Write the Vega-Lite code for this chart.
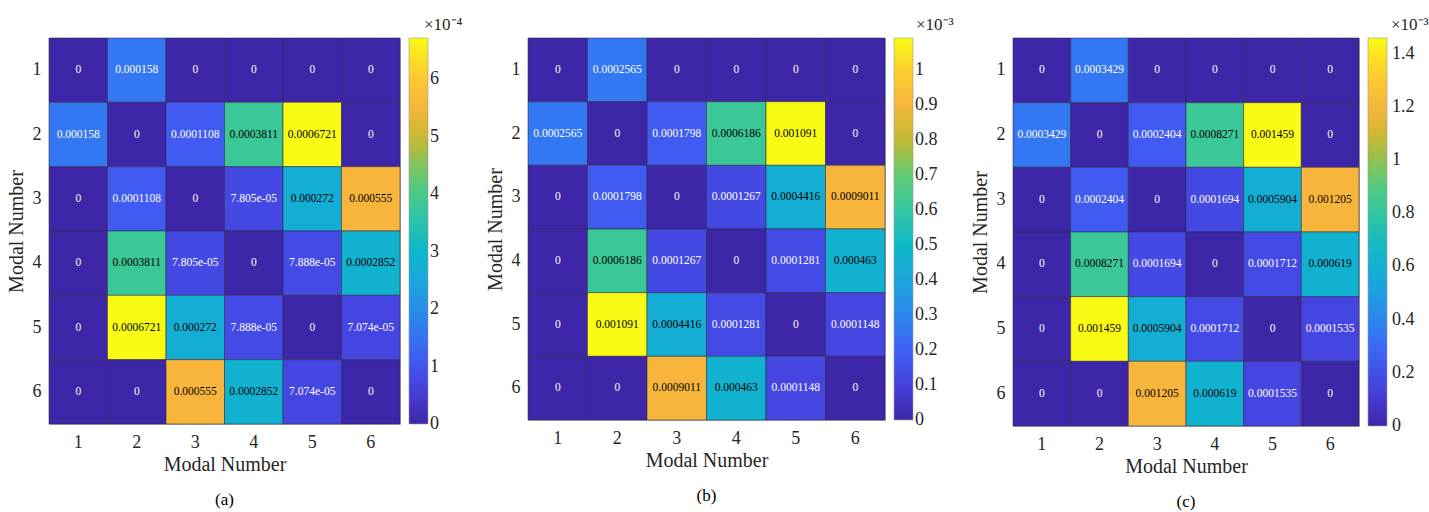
{
  "$schema": "https://vega.github.io/schema/vega-lite/v6.json",
  "padding": {"left": 5, "top": 16, "right": 2, "bottom": 2},
  "background": "white",
  "bounds": "flush",
  "spacing": 128,
  "config": {
    "font": "Liberation Serif",
    "view": {"stroke": "#b0b0b0", "strokeWidth": 1},
    "axis": {"ticks": false, "domain": false, "grid": false, "labelFontSize": 18, "titleFontSize": 20, "titleFontWeight": "normal", "labelColor": "#262626", "titleColor": "#262626", "labelFont": "Liberation Serif", "titleFont": "Liberation Serif"},
    "axisX": {"labelAngle": 0, "labelPadding": 9, "titlePadding": 3},
    "axisY": {"labelPadding": 8, "titlePadding": 6},
    "legend": {"orient": "none", "direction": "vertical", "gradientThickness": 19, "titleFontSize": 17, "titleFontWeight": "normal", "titleColor": "#262626", "titleFont": "Liberation Serif", "titlePadding": 4, "titleAnchor": "middle", "titleAlign": "left", "labelFontSize": 18, "labelColor": "#262626", "labelFont": "Liberation Serif", "labelOverlap": false, "labelBaseline": "middle", "labelOffset": 6, "gradientStrokeColor": "#9a9a9a", "gradientStrokeWidth": 0.6},
    "title": {"orient": "bottom", "fontSize": 17, "fontWeight": "normal", "color": "#000000", "font": "Liberation Serif", "offset": 18}
  },
  "datasets": {
    "a": [
      {"r":1,"c":1,"v":0,"t":"0"},{"r":1,"c":2,"v":0.000158,"t":"0.000158"},{"r":1,"c":3,"v":0,"t":"0"},{"r":1,"c":4,"v":0,"t":"0"},{"r":1,"c":5,"v":0,"t":"0"},{"r":1,"c":6,"v":0,"t":"0"},
      {"r":2,"c":1,"v":0.000158,"t":"0.000158"},{"r":2,"c":2,"v":0,"t":"0"},{"r":2,"c":3,"v":0.0001108,"t":"0.0001108"},{"r":2,"c":4,"v":0.0003811,"t":"0.0003811"},{"r":2,"c":5,"v":0.0006721,"t":"0.0006721"},{"r":2,"c":6,"v":0,"t":"0"},
      {"r":3,"c":1,"v":0,"t":"0"},{"r":3,"c":2,"v":0.0001108,"t":"0.0001108"},{"r":3,"c":3,"v":0,"t":"0"},{"r":3,"c":4,"v":0.00007805,"t":"7.805e-05"},{"r":3,"c":5,"v":0.000272,"t":"0.000272"},{"r":3,"c":6,"v":0.000555,"t":"0.000555"},
      {"r":4,"c":1,"v":0,"t":"0"},{"r":4,"c":2,"v":0.0003811,"t":"0.0003811"},{"r":4,"c":3,"v":0.00007805,"t":"7.805e-05"},{"r":4,"c":4,"v":0,"t":"0"},{"r":4,"c":5,"v":0.00007888,"t":"7.888e-05"},{"r":4,"c":6,"v":0.0002852,"t":"0.0002852"},
      {"r":5,"c":1,"v":0,"t":"0"},{"r":5,"c":2,"v":0.0006721,"t":"0.0006721"},{"r":5,"c":3,"v":0.000272,"t":"0.000272"},{"r":5,"c":4,"v":0.00007888,"t":"7.888e-05"},{"r":5,"c":5,"v":0,"t":"0"},{"r":5,"c":6,"v":0.00007074,"t":"7.074e-05"},
      {"r":6,"c":1,"v":0,"t":"0"},{"r":6,"c":2,"v":0,"t":"0"},{"r":6,"c":3,"v":0.000555,"t":"0.000555"},{"r":6,"c":4,"v":0.0002852,"t":"0.0002852"},{"r":6,"c":5,"v":0.00007074,"t":"7.074e-05"},{"r":6,"c":6,"v":0,"t":"0"}
    ],
    "b": [
      {"r":1,"c":1,"v":0,"t":"0"},{"r":1,"c":2,"v":0.0002565,"t":"0.0002565"},{"r":1,"c":3,"v":0,"t":"0"},{"r":1,"c":4,"v":0,"t":"0"},{"r":1,"c":5,"v":0,"t":"0"},{"r":1,"c":6,"v":0,"t":"0"},
      {"r":2,"c":1,"v":0.0002565,"t":"0.0002565"},{"r":2,"c":2,"v":0,"t":"0"},{"r":2,"c":3,"v":0.0001798,"t":"0.0001798"},{"r":2,"c":4,"v":0.0006186,"t":"0.0006186"},{"r":2,"c":5,"v":0.001091,"t":"0.001091"},{"r":2,"c":6,"v":0,"t":"0"},
      {"r":3,"c":1,"v":0,"t":"0"},{"r":3,"c":2,"v":0.0001798,"t":"0.0001798"},{"r":3,"c":3,"v":0,"t":"0"},{"r":3,"c":4,"v":0.0001267,"t":"0.0001267"},{"r":3,"c":5,"v":0.0004416,"t":"0.0004416"},{"r":3,"c":6,"v":0.0009011,"t":"0.0009011"},
      {"r":4,"c":1,"v":0,"t":"0"},{"r":4,"c":2,"v":0.0006186,"t":"0.0006186"},{"r":4,"c":3,"v":0.0001267,"t":"0.0001267"},{"r":4,"c":4,"v":0,"t":"0"},{"r":4,"c":5,"v":0.0001281,"t":"0.0001281"},{"r":4,"c":6,"v":0.000463,"t":"0.000463"},
      {"r":5,"c":1,"v":0,"t":"0"},{"r":5,"c":2,"v":0.001091,"t":"0.001091"},{"r":5,"c":3,"v":0.0004416,"t":"0.0004416"},{"r":5,"c":4,"v":0.0001281,"t":"0.0001281"},{"r":5,"c":5,"v":0,"t":"0"},{"r":5,"c":6,"v":0.0001148,"t":"0.0001148"},
      {"r":6,"c":1,"v":0,"t":"0"},{"r":6,"c":2,"v":0,"t":"0"},{"r":6,"c":3,"v":0.0009011,"t":"0.0009011"},{"r":6,"c":4,"v":0.000463,"t":"0.000463"},{"r":6,"c":5,"v":0.0001148,"t":"0.0001148"},{"r":6,"c":6,"v":0,"t":"0"}
    ],
    "c": [
      {"r":1,"c":1,"v":0,"t":"0"},{"r":1,"c":2,"v":0.0003429,"t":"0.0003429"},{"r":1,"c":3,"v":0,"t":"0"},{"r":1,"c":4,"v":0,"t":"0"},{"r":1,"c":5,"v":0,"t":"0"},{"r":1,"c":6,"v":0,"t":"0"},
      {"r":2,"c":1,"v":0.0003429,"t":"0.0003429"},{"r":2,"c":2,"v":0,"t":"0"},{"r":2,"c":3,"v":0.0002404,"t":"0.0002404"},{"r":2,"c":4,"v":0.0008271,"t":"0.0008271"},{"r":2,"c":5,"v":0.001459,"t":"0.001459"},{"r":2,"c":6,"v":0,"t":"0"},
      {"r":3,"c":1,"v":0,"t":"0"},{"r":3,"c":2,"v":0.0002404,"t":"0.0002404"},{"r":3,"c":3,"v":0,"t":"0"},{"r":3,"c":4,"v":0.0001694,"t":"0.0001694"},{"r":3,"c":5,"v":0.0005904,"t":"0.0005904"},{"r":3,"c":6,"v":0.001205,"t":"0.001205"},
      {"r":4,"c":1,"v":0,"t":"0"},{"r":4,"c":2,"v":0.0008271,"t":"0.0008271"},{"r":4,"c":3,"v":0.0001694,"t":"0.0001694"},{"r":4,"c":4,"v":0,"t":"0"},{"r":4,"c":5,"v":0.0001712,"t":"0.0001712"},{"r":4,"c":6,"v":0.000619,"t":"0.000619"},
      {"r":5,"c":1,"v":0,"t":"0"},{"r":5,"c":2,"v":0.001459,"t":"0.001459"},{"r":5,"c":3,"v":0.0005904,"t":"0.0005904"},{"r":5,"c":4,"v":0.0001712,"t":"0.0001712"},{"r":5,"c":5,"v":0,"t":"0"},{"r":5,"c":6,"v":0.0001535,"t":"0.0001535"},
      {"r":6,"c":1,"v":0,"t":"0"},{"r":6,"c":2,"v":0,"t":"0"},{"r":6,"c":3,"v":0.001205,"t":"0.001205"},{"r":6,"c":4,"v":0.000619,"t":"0.000619"},{"r":6,"c":5,"v":0.0001535,"t":"0.0001535"},{"r":6,"c":6,"v":0,"t":"0"}
    ]
  },
  "hconcat": [
    {
      "data": {"name": "a"},
      "width": 351, "height": 386,
      "title": {"text": "(a)"},
      "encoding": {
        "x": {"field": "c", "type": "ordinal", "scale": {"paddingInner": 0, "paddingOuter": 0}, "axis": {"title": "Modal Number"}},
        "y": {"field": "r", "type": "ordinal", "scale": {"paddingInner": 0, "paddingOuter": 0}, "axis": {"title": "Modal Number"}}
      },
      "layer": [
        {"mark": {"type": "rect", "stroke": "#2b2b40", "strokeWidth": 0.7, "strokeOpacity": 0.8},
         "encoding": {"color": {"field": "v", "type": "quantitative",
           "scale": {"type": "linear", "interpolate": "rgb",
             "domain": [0, 0.00006049, 0.00012098, 0.00018147, 0.00024196, 0.00030245, 0.00036966, 0.00043014, 0.00049063, 0.00052424, 0.00055784, 0.00061833, 0.0006721],
             "range": ["#3e26a8", "#4640dd", "#4060f6", "#2c85ef", "#1ca4df", "#0bb8ca", "#33c69f", "#5fcb73", "#c1b931", "#e2b434", "#f9b63c", "#fcd02c", "#f9fb15"]},
           "legend": {"title": "×10⁻⁴", "legendX": 360, "legendY": -21, "gradientLength": 386, "values": [0.000000001, 0.0001, 0.0002, 0.0003, 0.0004, 0.0005, 0.0006], "labelExpr": "format(datum.value*10000, '.1~f')"}}}},
        {"mark": {"type": "text", "fontSize": 11.5, "font": "Liberation Serif"},
         "encoding": {"text": {"field": "t"}, "color": {"condition": {"test": "datum.v > 0.0002", "value": "#000000"}, "value": "#ffffff"}}}
      ]
    },
    {
      "data": {"name": "b"},
      "width": 357, "height": 382,
      "title": {"text": "(b)"},
      "encoding": {
        "x": {"field": "c", "type": "ordinal", "scale": {"paddingInner": 0, "paddingOuter": 0}, "axis": {"title": "Modal Number"}},
        "y": {"field": "r", "type": "ordinal", "scale": {"paddingInner": 0, "paddingOuter": 0}, "axis": {"title": "Modal Number"}}
      },
      "layer": [
        {"mark": {"type": "rect", "stroke": "#2b2b40", "strokeWidth": 0.7, "strokeOpacity": 0.8},
         "encoding": {"color": {"field": "v", "type": "quantitative",
           "scale": {"type": "linear", "interpolate": "rgb",
             "domain": [0, 0.00009819, 0.00019638, 0.00029457, 0.00039276, 0.00049095, 0.00060005, 0.00069824, 0.00079643, 0.00085098, 0.00090553, 0.00100372, 0.001091],
             "range": ["#3e26a8", "#4640dd", "#4060f6", "#2c85ef", "#1ca4df", "#0bb8ca", "#33c69f", "#5fcb73", "#c1b931", "#e2b434", "#f9b63c", "#fcd02c", "#f9fb15"]},
           "legend": {"title": "×10⁻³", "legendX": 366, "legendY": -21, "gradientLength": 382, "values": [0.000000001, 0.0001, 0.0002, 0.0003, 0.0004, 0.0005, 0.0006, 0.0007, 0.0008, 0.0009, 0.001], "labelExpr": "format(datum.value*1000, '.1~f')"}}}},
        {"mark": {"type": "text", "fontSize": 11.5, "font": "Liberation Serif"},
         "encoding": {"text": {"field": "t"}, "color": {"condition": {"test": "datum.v > 0.0003", "value": "#000000"}, "value": "#ffffff"}}}
      ]
    },
    {
      "data": {"name": "c"},
      "width": 346, "height": 388,
      "title": {"text": "(c)"},
      "encoding": {
        "x": {"field": "c", "type": "ordinal", "scale": {"paddingInner": 0, "paddingOuter": 0}, "axis": {"title": "Modal Number"}},
        "y": {"field": "r", "type": "ordinal", "scale": {"paddingInner": 0, "paddingOuter": 0}, "axis": {"title": "Modal Number"}}
      },
      "layer": [
        {"mark": {"type": "rect", "stroke": "#2b2b40", "strokeWidth": 0.7, "strokeOpacity": 0.8},
         "encoding": {"color": {"field": "v", "type": "quantitative",
           "scale": {"type": "linear", "interpolate": "rgb",
             "domain": [0, 0.00013131, 0.00026262, 0.00039393, 0.00052524, 0.00065655, 0.00080245, 0.00093376, 0.00106507, 0.00113802, 0.00121097, 0.00134228, 0.001459],
             "range": ["#3e26a8", "#4640dd", "#4060f6", "#2c85ef", "#1ca4df", "#0bb8ca", "#33c69f", "#5fcb73", "#c1b931", "#e2b434", "#f9b63c", "#fcd02c", "#f9fb15"]},
           "legend": {"title": "×10⁻³", "legendX": 355, "legendY": -21, "gradientLength": 388, "labelOffset": 5, "values": [0.000000001, 0.0002, 0.0004, 0.0006, 0.0008, 0.001, 0.0012, 0.0014], "labelExpr": "format(datum.value*1000, '.1~f')"}}}},
        {"mark": {"type": "text", "fontSize": 11.5, "font": "Liberation Serif"},
         "encoding": {"text": {"field": "t"}, "color": {"condition": {"test": "datum.v > 0.0004", "value": "#000000"}, "value": "#ffffff"}}}
      ]
    }
  ],
  "resolve": {"scale": {"color": "independent", "x": "independent", "y": "independent"}, "legend": {"color": "independent"}}
}
